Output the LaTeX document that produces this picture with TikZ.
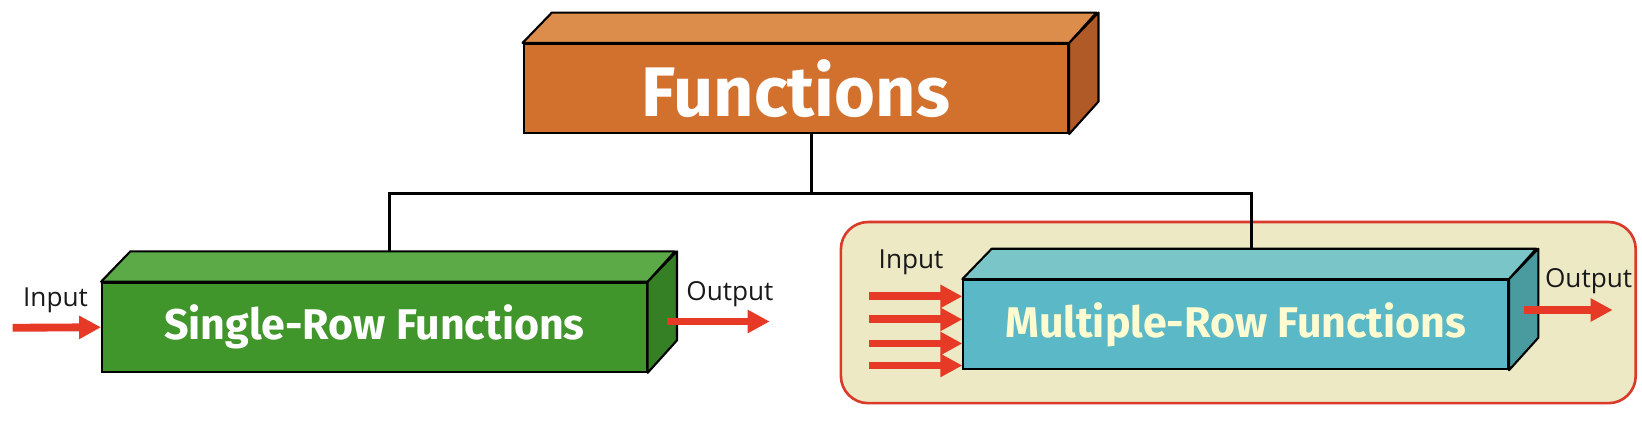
\documentclass[tikz,border=0pt]{standalone}
\usepackage{fontspec}
\setmainfont{Fira Sans}
\newfontfamily\labelfont{Open Sans}
\definecolor{funcfront}{RGB}{210, 112, 46}
\definecolor{functop}{RGB}{220, 141, 76}
\definecolor{funcside}{RGB}{176, 90, 40}
\definecolor{singlefront}{RGB}{64, 149, 43}
\definecolor{singletop}{RGB}{91, 170, 71}
\definecolor{singleside}{RGB}{53, 127, 36}
\definecolor{multifront}{RGB}{91, 184, 198}
\definecolor{multitop}{RGB}{121, 197, 200}
\definecolor{multiside}{RGB}{74, 155, 160}
\definecolor{multitext}{RGB}{253, 251, 207}
\definecolor{flowred}{RGB}{230, 58, 39}
\definecolor{panelfill}{RGB}{236, 233, 196}
\definecolor{panelline}{RGB}{217, 58, 42}
\usetikzlibrary{arrows.meta,positioning}

\begin{document}
\begin{tikzpicture}[x=1pt, y=-1pt,
    front/.style={draw, line width=2pt, minimum width=520pt, minimum height=85pt, inner sep=0pt},
    face/.style={draw, line width=2pt, line join=round},
    conn/.style={draw, line width=2.5pt},
    flow/.style={draw=flowred, line width=7.5pt, -{Triangle[length=21pt, width=21pt]}},
    iolabel/.style={font=\labelfont\fontsize{25}{25}\selectfont, text=black!90, inner sep=0pt}]
    \useasboundingbox (0,0) rectangle (1568,418.3);

    % frame round the multiple-row part
    \draw[draw=panelline, fill=panelfill, line width=2.5pt, rounded corners=26pt] (803,212) rectangle (1562,385);

    % front faces
    \node[front, fill=funcfront, text=white, font=\bfseries\fontsize{67}{67}\selectfont] (funcs) at (760,84.5) {Functions};
    \node[front, fill=singlefront, text=white, font=\bfseries\fontsize{41}{41}\selectfont] (single) at (357.5,312.5) {Single-Row Functions};
    \node[front, fill=multifront, text=multitext, font=\bfseries\fontsize{41}{41}\selectfont] (multi) at (1180,310) {Multiple-Row Functions};

    % tree lines
    \coordinate (j) at (775,185);
    \coordinate (jl) at (372,185);
    \coordinate (jr) at (1195,185);
    \draw[conn] (j |- funcs.south) -- (j);
    \draw[conn] (jl |- single.north) -- (jl) -- (jr) -- (jr |- multi.north);

    % top and side faces
    \draw[face, fill=functop] (funcs.north west) -- ++(28,-29) -- ++(520,0) -- (funcs.north east) -- cycle;
    \draw[face, fill=funcside] (funcs.north east) -- ++(28,-29) -- ++(0,85) -- (funcs.south east) -- cycle;
    \draw[face, fill=singletop] (single.north west) -- ++(28,-29) -- ++(520,0) -- (single.north east) -- cycle;
    \draw[face, fill=singleside] (single.north east) -- ++(28,-29) -- ++(0,85) -- (single.south east) -- cycle;
    \draw[face, fill=multitop] (multi.north west) -- ++(28,-29) -- ++(520,0) -- (multi.north east) -- cycle;
    \draw[face, fill=multiside] (multi.north east) -- ++(28,-29) -- ++(0,85) -- (multi.south east) -- cycle;

    % input and output
    \coordinate (sin) at (12,313);
    \coordinate (sout) at (637,307);
    \draw[flow] (sin) -- (single.west);
    \draw[flow] (sout) -- ++(98,0);
    \node[iolabel] (sinlabel) at (53,287) {Input};
    \node[iolabel] (soutlabel) at (697,281) {Output};

    \foreach \y in {283,305,328,349}
        \draw[flow] (830,\y) -- (multi.west |- 0,\y);
    \coordinate (mout) at (1455,296);
    \draw[flow] (mout) -- ++(85,0);
    \node[iolabel] (minlabel) at (870,250) {Input};
    \node[iolabel] (moutlabel) at (1517,268) {Output};
\end{tikzpicture}
\end{document}
